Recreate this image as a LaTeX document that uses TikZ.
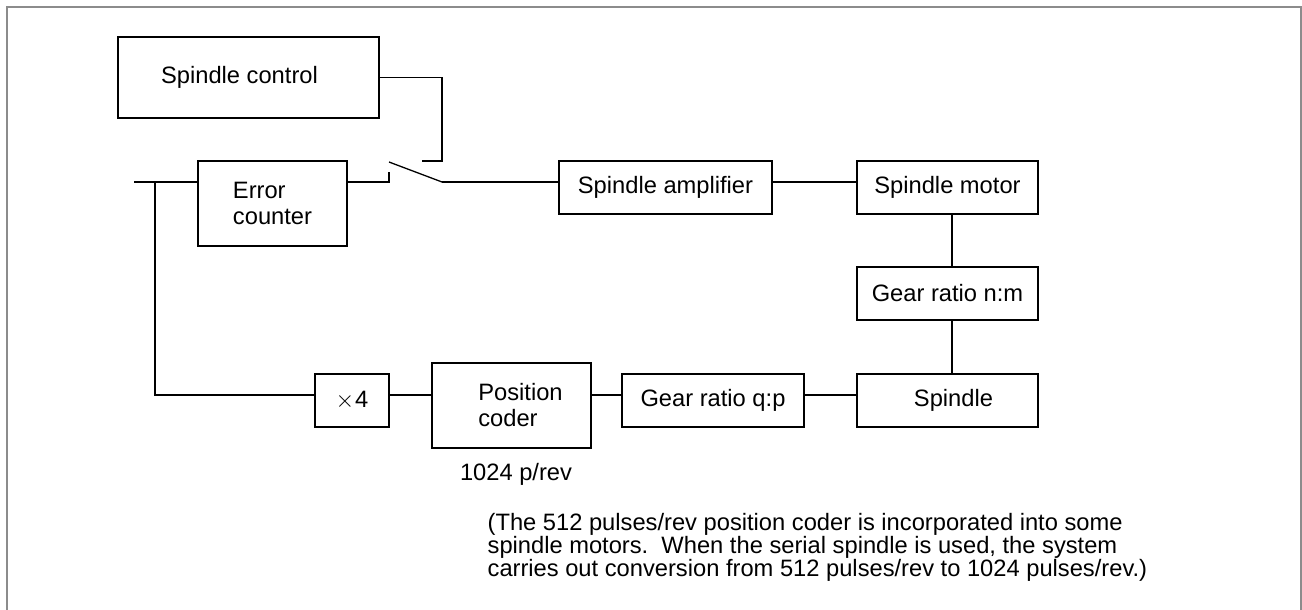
\documentclass[tikz,border=0pt]{standalone}
\usepackage{fontspec}
\setmainfont{Liberation Sans}
\newcommand\diafont{\fontsize{11.85pt}{13pt}\selectfont}
\begin{document}
\begin{tikzpicture}[x=0.5pt,y=-0.5pt,line width=0.65pt,
  bx/.style={draw, inner sep=0pt, align=left, font=\diafont},
  txt/.style={inner sep=0pt, font=\diafont}]
\useasboundingbox (0,0) rectangle (1302,610);
\draw[black!45, line width=1pt] (7,610) -- (7,7) -- (1301,7) -- (1301,610);
% boxes
\node[bx, minimum width=130.5pt, minimum height=40.5pt] (ctrl) at (248.5,77.5) {Spindle control\hspace*{9pt}};
\node[bx, minimum width=74.5pt, minimum height=42.5pt] (errc) at (272.5,203.5) {Error\\counter};
\node[bx, minimum width=106.5pt, minimum height=26.5pt] (amp) at (665.5,187.5) {Spindle amplifier};
\node[bx, minimum width=90.5pt, minimum height=26.5pt] (motor) at (947.5,187.5) {Spindle motor};
\node[bx, minimum width=90.5pt, minimum height=26.5pt] (gnm) at (947.5,293.5) {Gear ratio n:m};
\node[bx, minimum width=90.5pt, minimum height=26.5pt] (spin) at (947.5,400.5) {\hspace*{6pt}Spindle};
\node[bx, minimum width=91pt, minimum height=26.5pt] (gqp) at (713,400.5) {Gear ratio q:p};
\node[bx, minimum width=79.5pt, minimum height=42.5pt] (pos) at (511.5,405.5) {\hspace*{9pt}Position\\\hspace*{9pt}coder};
\node[bx, minimum width=37pt, minimum height=26.5pt] (x4) at (352,400.5) {$\times$\kern0.5pt 4};
% coordinates
\coordinate (in) at (134,182);
\coordinate (tap) at (155,182);
\coordinate (swfix) at (389,182);
\coordinate (swtop) at (389,172);
\coordinate (blade) at (389,162);
\coordinate (piv) at (442,182);
\coordinate (cend) at (422,161);
\coordinate (vx) at (952,0);
\coordinate (row) at (0,395);
% connectors
\draw (ctrl.east) -- (ctrl.east -| piv) -- (piv |- cend) -- (cend);
\draw (in) -- (in -| errc.west);
\draw (errc.east |- in) -- (swfix) -- (swtop);
\draw (blade) -- (piv);
\draw (piv) -- (piv -| amp.west);
\draw (amp.east |- piv) -- (motor.west |- piv);
\draw (motor.south -| vx) -- (gnm.north -| vx);
\draw (gnm.south -| vx) -- (spin.north -| vx);
\draw (tap) -- (tap |- row) -- (x4.west |- row);
\draw (x4.east |- row) -- (pos.west |- row);
\draw (pos.east |- row) -- (gqp.west |- row);
\draw (gqp.east |- row) -- (spin.west |- row);
% texts
\node[txt, anchor=base] (ppr) at (516,480) {1024 p/rev};
\node[txt, anchor=base west] (n1) at (487,530) {(The 512 pulses/rev position coder is incorporated into some};
\node[txt, anchor=base west] (n2) at (487,553) {spindle motors.\ \ When the serial spindle is used, the system};
\node[txt, anchor=base west] (n3) at (487,576) {carries out conversion from 512 pulses/rev to 1024 pulses/rev.)};
\end{tikzpicture}
\end{document}
